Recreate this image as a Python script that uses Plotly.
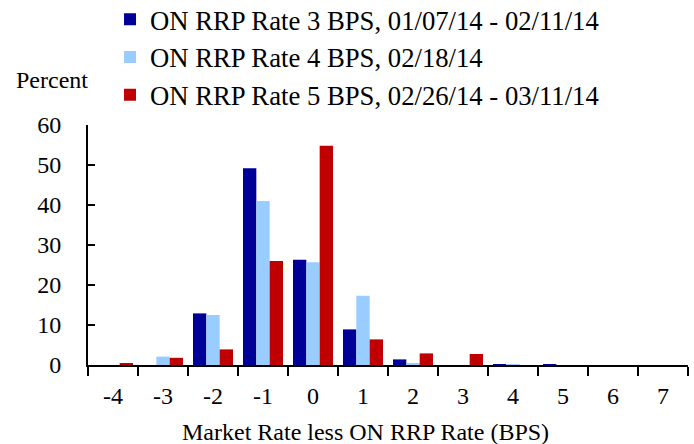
import plotly.graph_objects as go

categories = ["-4", "-3", "-2", "-1", "0", "1", "2", "3", "4", "5", "6", "7"]
series_names = [
    "ON RRP Rate 3 BPS, 01/07/14 - 02/11/14",
    "ON RRP Rate 4 BPS, 02/18/14",
    "ON RRP Rate 5 BPS, 02/26/14 - 03/11/14",
]
rate3 = [0.0, 0.0, 12.9, 49.2, 26.3, 8.9, 1.4, 0.0, 0.25, 0.1, 0.0, 0.0]
rate4 = [0.0, 2.1, 12.5, 41.0, 25.7, 17.3, 0.5, 0.0, 0.1, 0.0, 0.0, 0.0]
rate5 = [0.3, 1.8, 3.9, 26.0, 54.8, 6.4, 2.9, 2.75, 0.0, 0.0, 0.0, 0.0]
colors = ["#000099", "#99CCFF", "#C00000"]

FONT = "Liberation Serif"

fig = go.Figure()
for name, vals, col in zip(series_names, [rate3, rate4, rate5], colors):
    fig.add_trace(go.Bar(x=categories, y=vals, name=name,
                         marker=dict(color=col, line=dict(width=0))))

fig.update_layout(
    width=694, height=444,
    margin=dict(l=88, r=6, t=125, b=79, autoexpand=False),
    paper_bgcolor="white", plot_bgcolor="white",
    barmode="group", bargap=0.2, bargroupgap=0,
    font=dict(family=FONT, color="black", size=24),
    showlegend=True,
    legend=dict(x=0.0367, y=1.54, xanchor="left", yanchor="top",
                font=dict(family=FONT, size=26.7, color="black"),
                bgcolor="rgba(0,0,0,0)", borderwidth=0,
                traceorder="normal"),
)
fig.update_xaxes(
    type="category", range=[-0.5, 11.5], automargin=False,
    showline=True, linecolor="black", linewidth=2,
    ticks="outside", tickson="boundaries", ticklen=9, tickwidth=2, tickcolor="black",
    showgrid=False, zeroline=False,
    tickfont=dict(family=FONT, size=24, color="black"),
    ticklabelstandoff=8,
)
fig.update_yaxes(
    range=[0, 60], tickvals=[0, 10, 20, 30, 40, 50, 60], automargin=False,
    showline=True, linecolor="black", linewidth=2,
    ticks="inside", ticklen=7, tickwidth=2, tickcolor="black",
    showgrid=False, zeroline=False,
    tickfont=dict(family=FONT, size=24, color="black"),
    ticklabelstandoff=20,
)
fig.add_annotation(text="Percent", xref="paper", yref="paper",
                   x=-0.06, y=1.1875, xanchor="center", yanchor="middle",
                   showarrow=False, font=dict(family=FONT, size=24, color="black"))
fig.add_annotation(text="Market Rate less ON RRP Rate (BPS)", xref="paper", yref="paper",
                   x=0.4617, y=-0.279, xanchor="center", yanchor="middle",
                   showarrow=False, font=dict(family=FONT, size=24, color="black"))

fig.write_html("out.html",
               config={"displayModeBar": False},
               post_script="document.body.style.margin='0';document.body.style.padding='0';")
